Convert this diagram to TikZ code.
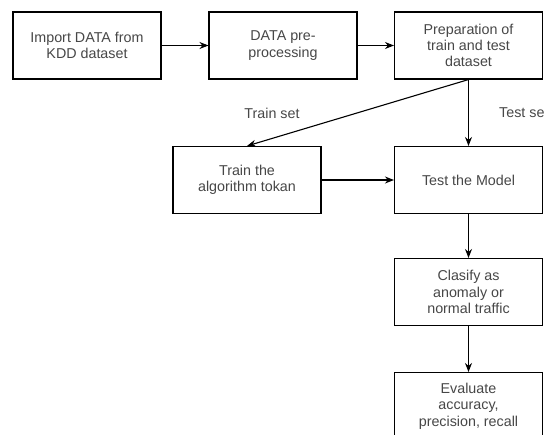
\documentclass[tikz,border=0pt]{standalone}
\usepackage{fontspec}
\setmainfont{Liberation Sans}
\usetikzlibrary{arrows.meta}
\begin{document}
\begin{tikzpicture}[x=1pt,y=-1pt,
  box/.style={draw=black,line width=1.1pt,minimum width=148pt,minimum height=67pt,inner sep=0pt,align=center,text=black!72,font=\fontsize{14.3}{16.3}\selectfont},
  lbl/.style={text=black!72,font=\fontsize{14.3}{16.3}\selectfont,inner sep=0pt},
  arr/.style={line width=1.1pt,-{Stealth[length=9pt,width=7pt]}}]
\useasboundingbox (0,0) rectangle (545,434);
\clip (0,0) rectangle (545,434);
\fill[white] (0,0) rectangle (545,434);
\node[box] (imp) at (87,45.5) {Import DATA from\\KDD dataset};
\node[box] (pre) at (283,45.5) {DATA pre-\\processing};
\node[box] (prep) at (468.5,45.5) {Preparation of\\train and test\\dataset};
\node[box] (train) at (247,180) {Train the\\algorithm tokan};
\node[box] (test) at (468.5,180) {Test the Model};
\node[box] (cls) at (468.5,292) {Clasify as\\anomaly or\\normal traffic};
\node[box] (eval) at (468.5,406) {Evaluate\\accuracy,\\precision, recall};
\node[lbl] (trl) at (272,113) {Train set};
\node[lbl,anchor=west] (tsl) at (499,113) {Test se};
\draw[arr] (imp) -- (pre);
\draw[arr] (pre) -- (prep);
\draw[arr] (prep.south) -- (train.north);
\draw[arr] (prep.south) -- (test.north);
\draw[arr] (train) -- (test);
\draw[arr] (test) -- (cls);
\draw[arr] (cls) -- (eval);
\end{tikzpicture}
\end{document}
